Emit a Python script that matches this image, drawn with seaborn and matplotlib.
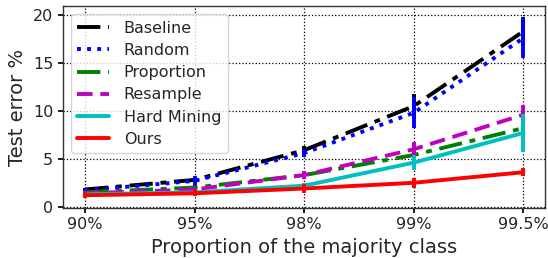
import pandas as pd
import matplotlib.pyplot as plt
import seaborn as sns

sns.set_theme(style="ticks", color_codes=False)
plt.rcParams["font.family"] = "DejaVu Sans"

categories = ["90%", "95%", "98%", "99%", "99.5%"]
methods = ["Baseline", "Random", "Proportion", "Resample", "Hard Mining", "Ours"]

baseline = [1.8, 2.8, 5.9, 10.5, 18.3]
random_ = [1.7, 2.7, 5.6, 9.8, 17.6]
proportion = [1.5, 2.0, 3.3, 5.4, 8.2]
resample = [1.4, 1.8, 3.3, 6.0, 9.6]
hard_mining = [1.3, 1.5, 2.2, 4.6, 7.7]
ours = [1.2, 1.4, 1.9, 2.5, 3.6]

baseline_err = [0.2, 0.3, 0.4, 1.3, 1.5]
random_err = [0.2, 0.5, 0.4, 1.6, 2.1]
proportion_err = [0.1, 0.2, 0.2, 0.3, 0.4]
resample_err = [0.2, 0.2, 0.4, 0.8, 1.0]
hard_mining_err = [0.1, 0.1, 0.3, 0.8, 2.0]
ours_err = [0.3, 0.3, 0.5, 0.5, 0.4]

values = [baseline, random_, proportion, resample, hard_mining, ours]
errors = [baseline_err, random_err, proportion_err, resample_err, hard_mining_err, ours_err]

colors = {
    "Baseline": "#000000",
    "Random": "#0000ff",
    "Proportion": "#008000",
    "Resample": "#bf00bf",
    "Hard Mining": "#00bfbf",
    "Ours": "#ff0000",
}
styles = {
    "Baseline": (0, (6, 2, 1.5, 2)),
    "Random": (0, (1, 1.6)),
    "Proportion": (0, (6, 2, 1.5, 2)),
    "Resample": (0, (4, 2)),
    "Hard Mining": "-",
    "Ours": "-",
}

rows = []
for m, v, e in zip(methods, values, errors):
    for i, c in enumerate(categories):
        rows.append({"method": m, "x": i, "err": v[i], "sd": e[i]})
df = pd.DataFrame(rows)

fig, ax = plt.subplots(figsize=(5.48, 2.58), dpi=100)

for m in methods:
    d = df[df["method"] == m]
    sns.lineplot(data=d, x="x", y="err", ax=ax, color=colors[m],
                 linestyle=styles[m], linewidth=2.8, label=m)
    ax.errorbar(d["x"], d["err"], yerr=d["sd"], fmt="none",
                ecolor=colors[m], elinewidth=2.8, capsize=0)

ax.set_xticks(range(len(categories)))
ax.set_xticklabels(categories)
ax.set_xlim(-0.2, 4.2)
ax.set_ylim(-0.1, 20.9)
ax.set_yticks([0, 5, 10, 15, 20])
ax.tick_params(labelsize=11.5, direction="out", length=3.5, color="k")
ax.grid(True, linestyle=":", color="k", linewidth=0.9)
for s in ax.spines.values():
    s.set_color("#333333")
    s.set_linewidth(1.0)
ax.set_xlabel("Proportion of the majority class", fontsize=14)
ax.set_ylabel("Test error %", fontsize=14)

leg = ax.legend(loc="upper left", fontsize=11.5, handlelength=2.0,
                handletextpad=0.9, labelspacing=0.45, borderaxespad=0.5,
                fancybox=True)
leg.get_frame().set_edgecolor("#cccccc")

fig.subplots_adjust(left=0.115, right=0.995, top=0.975, bottom=0.195)
fig.savefig("out.png", dpi=100)
